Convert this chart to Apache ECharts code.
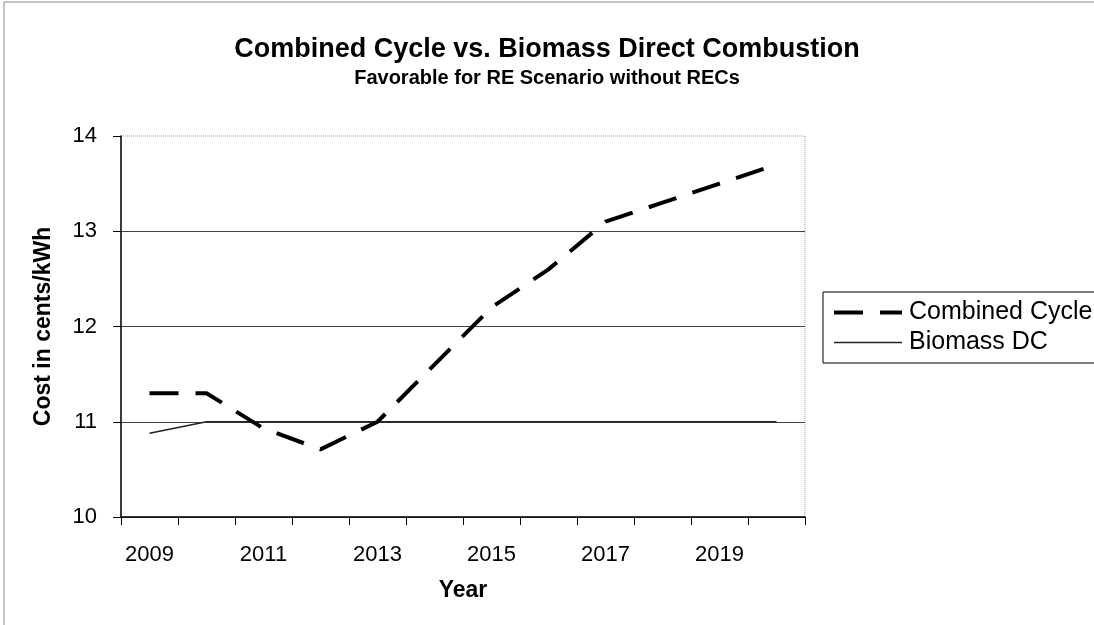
<!DOCTYPE html>
<html>
<head>
    <meta charset="utf-8">
    <title>Combined Cycle vs. Biomass</title>
    <script src="https://cdn.jsdelivr.net/npm/echarts@6/dist/echarts.min.js"></script>
</head>
<body style="margin:0;background:#fff;">
    <div id="main" style="width:1094px;height:625px;"></div>
    <script type="text/javascript">
        // data
        var years = ['2009', '2010', '2011', '2012', '2013', '2014', '2015', '2016', '2017', '2018', '2019', '2020'];
        var combinedCycle = [11.3, 11.3, 10.93, 10.71, 11.0, 11.6, 12.2, 12.6, 13.1, 13.3, 13.5, 13.7];
        var biomassDC = [10.88, 11.0, 11.0, 11.0, 11.0, 11.0, 11.0, 11.0, 11.0, 11.0, 11.0, 11.0];
        var yTicks = [10, 11, 12, 13, 14];

        var font = 'Arial, "Liberation Sans", sans-serif';
        var myChart = echarts.init(document.getElementById('main'));

        var option = {
            backgroundColor: '#fff',
            animation: false,
            title: {
                text: 'Combined Cycle vs. Biomass Direct Combustion',
                subtext: 'Favorable for RE Scenario without RECs',
                left: 'center',
                top: 31,
                itemGap: 5,
                textStyle: { fontFamily: font, fontSize: 27, fontWeight: 'bold', color: '#000' },
                subtextStyle: { fontFamily: font, fontSize: 20, fontWeight: 'bold', color: '#000' }
            },
            legend: {
                orient: 'vertical',
                left: 823,
                top: 292,
                padding: [8, 12, 8, 9],
                itemGap: 5,
                itemWidth: 68,
                itemHeight: 14,
                borderColor: '#000',
                borderWidth: 1,
                itemStyle: { opacity: 0 },
                textStyle: { fontFamily: font, fontSize: 25, color: '#000', padding: [0, 0, 0, 2] },
                data: [
                    { name: 'Combined Cycle', lineStyle: { width: 4 } },
                    { name: 'Biomass DC', lineStyle: { width: 1.5 } }
                ]
            },
            grid: {
                left: 121,
                right: 289,
                top: 136,
                bottom: 108,
                show: true,
                borderColor: '#999',
                borderWidth: 1,
                borderType: 'dotted'
            },
            xAxis: {
                type: 'category',
                data: years,
                boundaryGap: true,
                name: 'Year',
                nameLocation: 'middle',
                nameGap: 62,
                nameTextStyle: { fontFamily: font, fontSize: 23, fontWeight: 'bold', color: '#000', letterSpacing: 2 },
                axisLine: { lineStyle: { color: '#000', width: 1.5 } },
                axisTick: { show: true, interval: 0, length: 8, inside: false, lineStyle: { color: '#000' } },
                axisLabel: { interval: 1, margin: 27, fontFamily: font, fontSize: 22, color: '#000' },
                splitLine: { show: false }
            },
            yAxis: {
                type: 'value',
                min: yTicks[0],
                max: yTicks[yTicks.length - 1],
                interval: 1,
                name: 'Cost in cents/kWh',
                nameLocation: 'middle',
                nameGap: 66,
                nameTextStyle: { fontFamily: font, fontSize: 23, fontWeight: 'bold', color: '#000' },
                axisLine: { show: true, lineStyle: { color: '#000', width: 1.5 } },
                axisTick: { show: true, length: 8, lineStyle: { color: '#000' } },
                axisLabel: { margin: 24, fontFamily: font, fontSize: 22, color: '#000' },
                splitLine: {
                    show: true,
                    lineStyle: { color: ['#444', '#444', '#444', '#444', 'rgba(0,0,0,0)'], width: 1 }
                }
            },
            series: [{
                name: 'Combined Cycle',
                type: 'line',
                data: combinedCycle,
                symbol: 'none',
                lineStyle: { color: '#000', width: 4, type: [29, 17], cap: 'butt' },
                itemStyle: { color: '#000' },
                z: 3
            }, {
                name: 'Biomass DC',
                type: 'line',
                data: biomassDC,
                symbol: 'none',
                lineStyle: { color: '#222', width: 1.5 },
                itemStyle: { color: '#222' },
                z: 2
            }],
            graphic: [{
                type: 'line',
                shape: { x1: 4, y1: 2, x2: 4, y2: 625 },
                style: { stroke: '#888', lineWidth: 1 }
            }, {
                type: 'line',
                shape: { x1: 4, y1: 2, x2: 1094, y2: 2 },
                style: { stroke: '#888', lineWidth: 1 }
            }]
        };

        myChart.setOption(option);
    </script>
</body>
</html>
